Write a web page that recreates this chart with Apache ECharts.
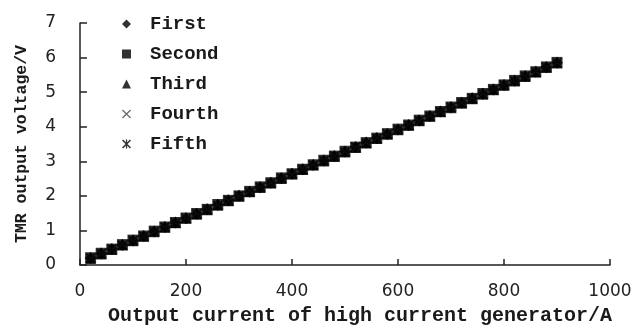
<!DOCTYPE html>
<html>
<head>
<meta charset="utf-8">
<script src="https://cdn.jsdelivr.net/npm/echarts@6/dist/echarts.min.js"></script>
<style>html,body{margin:0;padding:0;background:#fff}#c{width:636px;height:326px}</style>
</head>
<body>
<div id="c"></div>
<script>
var currentA = [20,40,60,80,100,120,140,160,180,200,220,240,260,280,300,320,340,360,380,400,420,440,460,480,500,520,540,560,580,600,620,640,660,680,700,720,740,760,780,800,820,840,860,880,900];
var first  = [0.20,0.33,0.46,0.58,0.71,0.84,0.97,1.10,1.23,1.35,1.48,1.61,1.74,1.87,2.00,2.12,2.25,2.38,2.51,2.64,2.77,2.89,3.02,3.15,3.28,3.41,3.54,3.67,3.79,3.92,4.05,4.18,4.31,4.44,4.56,4.69,4.82,4.95,5.08,5.21,5.33,5.46,5.59,5.72,5.85];
var second = [0.21,0.34,0.46,0.59,0.72,0.84,0.98,1.10,1.23,1.36,1.49,1.61,1.75,1.87,2.00,2.13,2.26,2.38,2.52,2.64,2.77,2.90,3.03,3.15,3.29,3.41,3.54,3.67,3.80,3.93,4.05,4.19,4.31,4.44,4.57,4.70,4.82,4.96,5.08,5.21,5.34,5.47,5.59,5.73,5.86];
var third  = [0.19,0.32,0.45,0.58,0.70,0.83,0.96,1.09,1.22,1.35,1.47,1.60,1.73,1.86,1.99,2.12,2.24,2.37,2.50,2.63,2.76,2.89,3.01,3.14,3.27,3.40,3.53,3.66,3.78,3.91,4.04,4.17,4.30,4.43,4.55,4.68,4.81,4.94,5.07,5.20,5.32,5.45,5.58,5.71,5.84];
var fourth = [0.20,0.33,0.45,0.59,0.71,0.84,0.97,1.09,1.23,1.36,1.48,1.61,1.74,1.86,2.00,2.13,2.25,2.38,2.51,2.63,2.77,2.90,3.02,3.15,3.28,3.40,3.54,3.67,3.79,3.92,4.05,4.17,4.31,4.44,4.56,4.69,4.83,4.95,5.08,5.20,5.33,5.46,5.60,5.72,5.85];
var fifth  = [0.20,0.33,0.46,0.58,0.71,0.83,0.97,1.10,1.22,1.35,1.48,1.61,1.73,1.87,2.00,2.12,2.25,2.37,2.51,2.64,2.76,2.89,3.02,3.15,3.27,3.41,3.53,3.66,3.79,3.92,4.04,4.18,4.30,4.43,4.56,4.69,4.82,4.94,5.07,5.21,5.33,5.46,5.58,5.72,5.84];
var seriesNames = ['First','Second','Third','Fourth','Fifth'];
var xTicks = [0,200,400,600,800,1000];

var xSym = 'path://M0,1L1,0L10,9L9,10ZM9,0L10,1L1,10L0,9Z';
var starSym = 'path://M0,1.2L1.2,0L10,8.8L8.8,10ZM8.8,0L10,1.2L1.2,10L0,8.8ZM4.3,0L5.7,0L5.7,10L4.3,10Z';
var symbols = ['diamond','rect','triangle',xSym,starSym];
var sizes = [12,11,11,8,10];
var colors = ['#000','#000','#000','#444','#000'];
var allData = [first,second,third,fourth,fifth];

function pairs(v){ return currentA.map(function(x,i){ return [x, v[i]]; }); }

var chart = echarts.init(document.getElementById('c'), null, {renderer:'canvas'});
var mono = 'Liberation Mono';
chart.setOption({
  animation:false,
  backgroundColor:'#fff',
  grid:{left:80,right:26,top:23,bottom:61,containLabel:false,outerBoundsMode:'none'},
  legend:{
    orient:'vertical', left:117, top:9,
    itemWidth:9, itemHeight:9, itemGap:10,
    textStyle:{fontFamily:mono, fontSize:19, fontWeight:'bold', color:'#1a1a1a', lineHeight:20, padding:[0,0,0,14]},
    data:seriesNames
  },
  xAxis:{
    type:'value', min:0, max:1000, interval:200,
    name:'Output current of high current generator/A',
    nameLocation:'middle', nameGap:41,
    nameTextStyle:{fontFamily:mono, fontSize:20, fontWeight:'bold', color:'#1a1a1a', padding:[0,0,0,30]},
    axisLine:{show:true,lineStyle:{color:'#222',width:1.5}},
    axisTick:{show:true,inside:true,length:6,lineStyle:{color:'#222',width:1.5}},
    axisLabel:{fontFamily:'DejaVu Sans', fontSize:17, color:'#222', margin:18,
      formatter:function(v){ return xTicks.indexOf(v)>=0 ? String(v) : ''; }},
    splitLine:{show:false}
  },
  yAxis:{
    type:'value', min:0, max:7, interval:1,
    name:'TMR output voltage/V',
    nameLocation:'middle', nameGap:50,
    nameTextStyle:{fontFamily:mono, fontSize:16.5, fontWeight:'bold', color:'#1a1a1a'},
    axisLine:{show:true,lineStyle:{color:'#222',width:1.5}},
    axisTick:{show:true,inside:true,length:7,lineStyle:{color:'#222',width:1.5}},
    axisLabel:{fontFamily:'DejaVu Sans', fontSize:17, color:'#222', margin:24},
    splitLine:{show:false}
  },
  series: seriesNames.map(function(n,i){
    return {
      name:n, type:'scatter', symbol:symbols[i], symbolSize:sizes[i],
      itemStyle:{color:colors[i]}, data:pairs(allData[i])
    };
  })
});
</script>
</body>
</html>
